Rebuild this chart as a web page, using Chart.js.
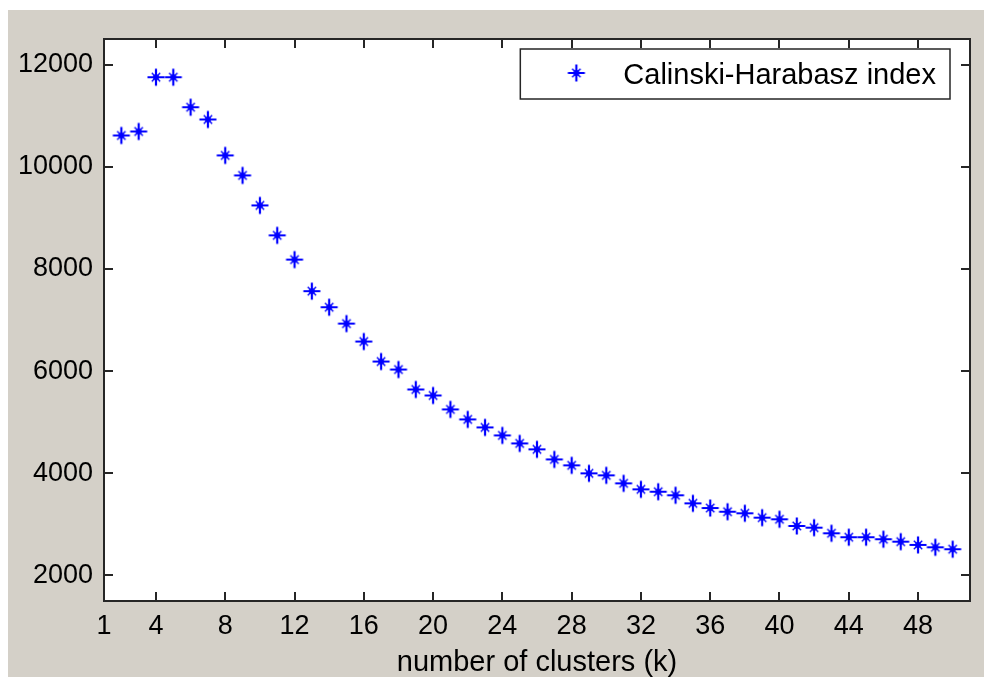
<!DOCTYPE html>
<html>
<head>
<meta charset="utf-8">
<title>Calinski-Harabasz index</title>
<script src="https://cdn.jsdelivr.net/npm/chart.js@4.4.1/dist/chart.umd.min.js"></script>
<style>
  html, body { margin: 0; padding: 0; background: #fff; }
  canvas { display: block; }
</style>
</head>
<body>
<canvas id="c" width="984" height="677"></canvas>
<script>
// number of clusters k
const clusters = [2, 3, 4, 5, 6, 7, 8, 9, 10, 11, 12, 13, 14, 15, 16, 17, 18, 19, 20, 21,
  22, 23, 24, 25, 26, 27, 28, 29, 30, 31, 32, 33, 34, 35, 36, 37, 38, 39, 40, 41,
  42, 43, 44, 45, 46, 47, 48, 49, 50];
// Calinski-Harabasz index for each k
const chIndex = [10612, 10690, 11752, 11752, 11165, 10925, 10221, 9830, 9243, 8657,
  8182, 7565, 7250, 6930, 6578, 6187, 6031, 5640, 5523, 5250,
  5054, 4898, 4741, 4585, 4468, 4272, 4155, 3998, 3959, 3803,
  3685, 3639, 3569, 3412, 3320, 3248, 3217, 3131, 3100, 2968,
  2936, 2826, 2748, 2748, 2709, 2662, 2598, 2552, 2513];
const xTicks = [1, 4, 8, 12, 16, 20, 24, 28, 32, 36, 40, 44, 48];
const yTicks = [2000, 4000, 6000, 8000, 10000, 12000];
const seriesName = 'Calinski-Harabasz index';
const xTitle = 'number of clusters (k)';

const FONT = "'Liberation Sans', Arial, Helvetica, sans-serif";
const FIG_BG = '#d4d0c8';
const INK = '#000000';
const AXIS = '#262626';
const BLUE = '#0000ff';

// star marker: long plus, short diagonals, filled centre
function makeStar() {
  const s = 20, c = s / 2;
  const cv = document.createElement('canvas');
  cv.width = s; cv.height = s;
  const g = cv.getContext('2d');
  g.strokeStyle = BLUE; g.fillStyle = BLUE; g.lineCap = 'butt';
  g.lineWidth = 2.2;
  g.beginPath();
  g.moveTo(c - 8.5, c); g.lineTo(c + 8.5, c);
  g.moveTo(c, c - 8.5); g.lineTo(c, c + 8.5);
  g.stroke();
  g.lineWidth = 1.4;
  g.beginPath();
  const d = 4.2;
  g.moveTo(c - d, c - d); g.lineTo(c + d, c + d);
  g.moveTo(c - d, c + d); g.lineTo(c + d, c - d);
  g.stroke();
  g.beginPath(); g.arc(c, c, 3, 0, Math.PI * 2); g.fill();
  return cv;
}
const star = makeStar();

const points = clusters.map((k, i) => ({ x: k, y: chIndex[i] }));

const figure = {
  id: 'figure',
  beforeDraw(chart) {
    const { ctx, width, height, chartArea: a } = chart;
    ctx.save();
    ctx.fillStyle = '#ffffff';
    ctx.fillRect(0, 0, width, height);
    ctx.fillStyle = FIG_BG;
    ctx.fillRect(8, 10, width - 8, height - 10);
    ctx.fillStyle = '#ffffff';
    ctx.fillRect(a.left, a.top, a.right - a.left, a.bottom - a.top);
    ctx.restore();
  },
  afterDraw(chart) {
    const { ctx, chartArea: a, scales } = chart;
    const tl = 9;
    ctx.save();
    ctx.strokeStyle = AXIS;
    ctx.lineWidth = 2;
    // inward ticks on all four sides
    ctx.beginPath();
    xTicks.forEach(v => {
      const px = Math.round(scales.x.getPixelForValue(v));
      ctx.moveTo(px, a.bottom); ctx.lineTo(px, a.bottom - tl);
      ctx.moveTo(px, a.top); ctx.lineTo(px, a.top + tl);
    });
    yTicks.forEach(v => {
      const py = Math.round(scales.y.getPixelForValue(v));
      ctx.moveTo(a.left, py); ctx.lineTo(a.left + tl, py);
      ctx.moveTo(a.right, py); ctx.lineTo(a.right - tl, py);
    });
    ctx.stroke();
    ctx.strokeRect(a.left, a.top, a.right - a.left, a.bottom - a.top);

    // legend box
    ctx.font = '29px ' + FONT;
    const tw = ctx.measureText(seriesName).width;
    const bw = 103 + tw + 14, bh = 50;
    const bx = a.right - 20 - bw, by = a.top + 10;
    ctx.fillStyle = '#ffffff';
    ctx.fillRect(bx, by, bw, bh);
    ctx.lineWidth = 1.5;
    ctx.strokeStyle = AXIS;
    ctx.strokeRect(bx, by, bw, bh);
    ctx.drawImage(star, bx + 56 - star.width / 2, by + 24 - star.height / 2);
    ctx.fillStyle = INK;
    ctx.textAlign = 'left';
    ctx.textBaseline = 'middle';
    ctx.fillText(seriesName, bx + 103, by + 27);
    ctx.restore();
  }
};

new Chart(document.getElementById('c'), {
  type: 'scatter',
  data: {
    datasets: [{
      label: seriesName,
      data: points,
      pointStyle: star,
      borderColor: BLUE,
      backgroundColor: BLUE,
      showLine: false
    }]
  },
  options: {
    responsive: false,
    animation: false,
    events: [],
    layout: { padding: { left: 0, top: 39, right: 14, bottom: 0 } },
    plugins: {
      legend: { display: false },
      tooltip: { enabled: false }
    },
    scales: {
      x: {
        type: 'linear',
        min: 1,
        max: 51,
        afterBuildTicks: s => { s.ticks = xTicks.map(v => ({ value: v })); },
        afterFit: s => { s.height = 76; },
        grid: { display: false, drawTicks: false },
        border: { display: false },
        ticks: {
          color: INK,
          padding: 9,
          maxRotation: 0,
          autoSkip: false,
          font: { family: FONT, size: 27 },
          callback: v => String(v)
        },
        title: {
          display: true,
          text: xTitle,
          color: INK,
          font: { family: FONT, size: 29, lineHeight: 1 },
          padding: { top: 0, bottom: 0 }
        }
      },
      y: {
        type: 'linear',
        min: 1500,
        max: 12500,
        afterBuildTicks: s => { s.ticks = yTicks.map(v => ({ value: v })); },
        afterFit: s => { s.width = 104; },
        grid: { display: false, drawTicks: false },
        border: { display: false },
        ticks: {
          color: INK,
          padding: 11,
          autoSkip: false,
          font: { family: FONT, size: 27 },
          callback: v => String(v)
        }
      }
    }
  },
  plugins: [figure]
});
</script>
</body>
</html>
